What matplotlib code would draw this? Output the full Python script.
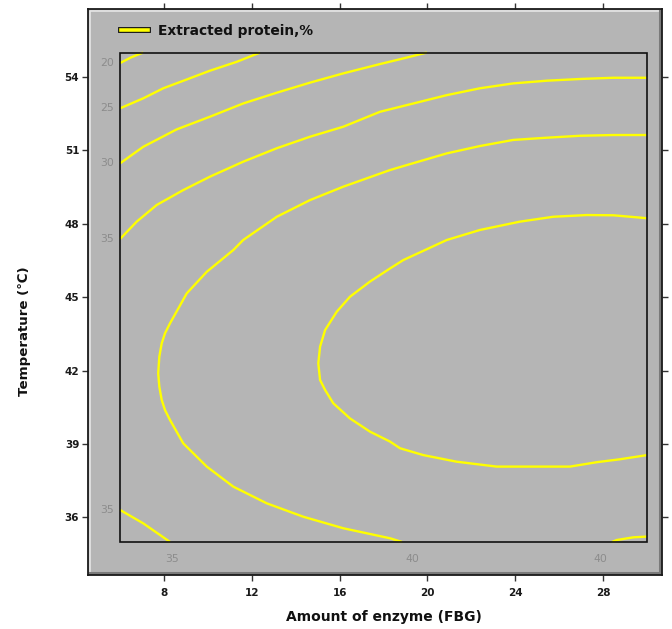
import matplotlib
matplotlib.use("Agg")
import matplotlib.pyplot as plt
from matplotlib.patches import Rectangle
from matplotlib.lines import Line2D
import matplotlib.patheffects as pe

# ---------------- data ----------------
# Contour lines of "Extracted protein, %" (x = enzyme amount, y = temperature)
c20_x = [6.00, 6.50, 7.05]
c20_y = [54.57, 54.80, 55.00]

c25_x = [6.00, 7.06, 7.97, 9.04, 10.10, 11.31, 12.38]
c25_y = [52.72, 53.13, 53.54, 53.90, 54.26, 54.62, 55.00]

c30_x = [6.00, 7.06, 8.58, 10.10, 11.61, 13.14, 14.65, 16.17, 17.84, 18.90, 19.97]
c30_y = [50.47, 51.15, 51.86, 52.38, 52.92, 53.36, 53.77, 54.15, 54.53, 54.76, 55.00]

c35a_x = [6.00, 6.76, 7.67, 8.88, 10.10, 11.61, 13.14, 14.65, 16.17, 17.84, 19.36,
          20.88, 22.39, 23.91, 25.43, 26.95, 28.46, 30.00]
c35a_y = [47.38, 48.09, 48.77, 49.38, 49.93, 50.54, 51.09, 51.56, 51.97, 52.58, 52.92,
          53.26, 53.54, 53.74, 53.85, 53.92, 53.97, 53.97]

c35b_x = [6.00, 7.06, 8.28]
c35b_y = [36.31, 35.76, 35.00]

c40a_x = [30.00, 28.46, 26.95, 25.43, 23.91, 22.39, 20.88, 18.90, 18.30, 16.17, 14.65,
          13.14, 11.61, 11.16, 9.95, 9.04, 8.28, 8.05, 7.90, 7.79, 7.74, 7.79, 7.90, 8.05,
          8.28, 8.88, 9.95, 11.16, 12.68, 14.35, 16.17, 18.30, 18.84]
c40a_y = [51.63, 51.63, 51.60, 51.52, 51.43, 51.18, 50.88, 50.36, 50.20, 49.52, 48.97,
          48.29, 47.34, 46.93, 46.04, 45.16, 43.94, 43.53, 43.12, 42.57, 41.89, 41.35, 40.80,
          40.39, 39.98, 39.03, 38.08, 37.26, 36.58, 36.03, 35.56, 35.15, 35.00]

c40b_x = [28.40, 28.62, 29.38, 30.00]
c40b_y = [35.00, 35.08, 35.19, 35.22]

c45_x = [30.00, 28.46, 27.25, 25.73, 24.21, 22.39, 20.88, 18.90, 18.30, 17.38, 16.47,
         15.87, 15.34, 15.11, 15.03, 15.11, 15.34, 15.71, 16.47, 17.38, 18.30, 18.75,
         19.81, 21.33, 23.15, 26.49, 27.71, 28.77, 30.00]
c45_y = [48.23, 48.35, 48.36, 48.29, 48.09, 47.75, 47.34, 46.52, 46.18, 45.64, 45.02,
         44.41, 43.66, 42.98, 42.30, 41.62, 41.21, 40.67, 40.05, 39.51, 39.10, 38.83,
         38.55, 38.28, 38.08, 38.08, 38.26, 38.38, 38.55]

contours = [(c20_x, c20_y), (c25_x, c25_y), (c30_x, c30_y), (c35a_x, c35a_y),
            (c35b_x, c35b_y), (c40a_x, c40a_y), (c40b_x, c40b_y), (c45_x, c45_y)]

# contour level labels in the margin
left_label_vals = ["20", "25", "30", "35", "35"]
left_label_y = [54.57, 52.72, 50.47, 47.38, 36.31]
bottom_label_vals = ["35", "40", "40"]
bottom_label_x = [8.37, 19.30, 27.86]

x_ticks = [8, 12, 16, 20, 24, 28]
y_ticks = [36, 39, 42, 45, 48, 51, 54]

# region of the design space
x_min, x_max = 6, 30
y_min, y_max = 35, 55

# ---------------- figure ----------------
W, H = 672, 629
fig = plt.figure(figsize=(W / 100, H / 100), dpi=100)
ax_l, ax_r, ax_t, ax_b = 88, 662, 9, 575
ax = fig.add_axes([ax_l / W, 1 - ax_b / H, (ax_r - ax_l) / W, (ax_b - ax_t) / H])
bg = "#b5b5b5"
ax.set_facecolor(bg)
ax.set_xlim(4.543, 30.68)
ax.set_ylim(33.65, 56.78)

for sp in ax.spines.values():
    sp.set_color("#1a1a1a")
    sp.set_linewidth(1.3)

# bevel effect inside the frame
dx, dy = 2.0 / (ax_r - ax_l), 2.0 / (ax_b - ax_t)
ax.plot([dx, dx, 1 - dx], [dy, 1 - dy, 1 - dy], transform=ax.transAxes,
        color="#e6e6e6", lw=1.2, clip_on=False, zorder=1)
ax.plot([dx, 1 - dx, 1 - dx], [dy, dy, 1 - dy], transform=ax.transAxes,
        color="#7a7a7a", lw=2.2, clip_on=False, zorder=1)

# inner box
ax.add_patch(Rectangle((x_min, y_min), x_max - x_min, y_max - y_min,
                       facecolor="none", edgecolor="#111111", lw=1.2, zorder=3))

for cx, cy in contours:
    ax.plot(cx, cy, color="#ffff00", lw=1.7, solid_capstyle="butt",
            solid_joinstyle="round", zorder=2)

lab_kw = dict(color="#8c8c8c", fontsize=7.8, family="DejaVu Sans", ha="center", va="center")
for v, yy in zip(left_label_vals, left_label_y):
    ax.text(5.41, yy, v, **lab_kw)
for v, xx in zip(bottom_label_vals, bottom_label_x):
    ax.text(xx, 34.31, v, **lab_kw)

# ticks
ax.set_xticks(x_ticks)
ax.set_yticks(y_ticks)
ax.tick_params(direction="out", length=4.3, width=1.0, color="#333333",
               top=True, right=True, labeltop=False, labelright=False)
ax.tick_params(axis="x", pad=5)
ax.tick_params(axis="y", pad=2)
for lab in ax.get_xticklabels() + ax.get_yticklabels():
    lab.set_fontfamily("DejaVu Sans")
    lab.set_fontweight("bold")
    lab.set_fontsize(7.5)
    lab.set_color("#1a1a1a")

ax.set_xlabel("Amount of enzyme (FBG)", fontsize=10, fontweight="bold",
              family="DejaVu Sans", color="#111111")
ax.set_ylabel("Temperature (\u2103)", fontsize=9.6, fontweight="bold",
              family="DejaVu Sans", color="#111111")
ax.xaxis.set_label_coords((384 - ax_l) / (ax_r - ax_l), (ax_b - 617) / (ax_b - ax_t))
ax.yaxis.set_label_coords((25 - ax_l) / (ax_r - ax_l), (ax_b - 331) / (ax_b - ax_t))
ax.xaxis.label.set_va("center")
ax.yaxis.label.set_va("center")

# legend
handle = Line2D([], [], color="#ffff00", lw=2.6,
                path_effects=[pe.Stroke(linewidth=4.2, foreground="#111111"), pe.Normal()])
leg = ax.legend([handle], ["Extracted protein,%"], loc="center left",
                bbox_to_anchor=((121 - ax_l) / (ax_r - ax_l), (ax_b - 31) / (ax_b - ax_t)),
                frameon=False, borderpad=0, borderaxespad=0, handlelength=1.95,
                handletextpad=0.75, prop={"family": "DejaVu Sans", "weight": "bold", "size": 9.9})
for t in leg.get_texts():
    t.set_color("#111111")

fig.savefig("out.png", dpi=100, facecolor="white")
